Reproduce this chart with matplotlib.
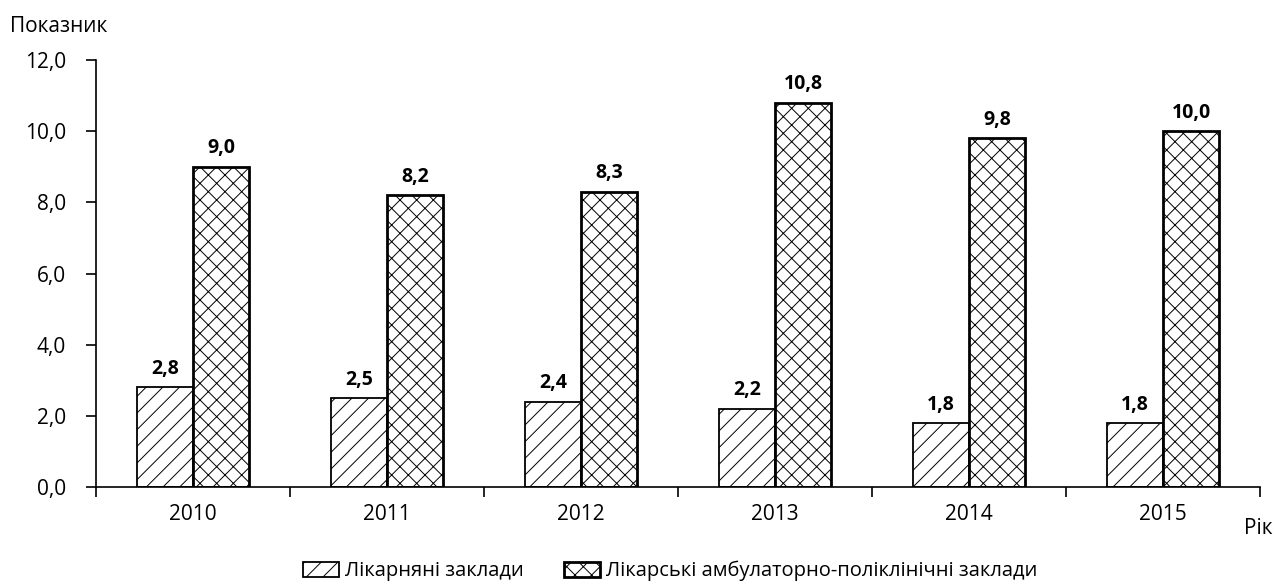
import matplotlib
matplotlib.use("Agg")
from matplotlib import pyplot as plt
from matplotlib.ticker import FixedLocator
import numpy as np

years = ["2010", "2011", "2012", "2013", "2014", "2015"]
hospitals = [2.8, 2.5, 2.4, 2.2, 1.8, 1.8]
outpatient = [9.0, 8.2, 8.3, 10.8, 9.8, 10.0]
names = ["Лікарняні заклади", "Лікарські амбулаторно-поліклінічні заклади"]

plt.rcParams["font.family"] = ["Open Sans", "DejaVu Sans"]
plt.rcParams["hatch.linewidth"] = 0.7

fig = plt.figure(figsize=(12.74, 5.86), dpi=100)
ax = fig.add_axes([96 / 1274, 1 - 487 / 586, (1260 - 96) / 1274, (487 - 60) / 586])

x = np.arange(len(years))
w = 0.29
b1 = ax.bar(x - w / 2, hospitals, w, color="white", edgecolor="black", linewidth=1.3,
            hatch="//", label=names[0])
b2 = ax.bar(x + w / 2, outpatient, w, color="white", edgecolor="black", linewidth=2.0,
            hatch="xx", label=names[1])

for bars, vals in ((b1, hospitals), (b2, outpatient)):
    for r, v in zip(bars, vals):
        ax.annotate(f"{v:.1f}".replace(".", ","), (r.get_x() + r.get_width() / 2, v),
                    xytext=(0, 6), textcoords="offset points", ha="center", va="bottom",
                    fontsize=14, fontweight="bold")

ax.set_xlim(-0.5, 5.5)
ax.set_ylim(0, 12)
ax.set_yticks(np.arange(0, 12.1, 2))
ax.set_yticklabels([f"{t:.1f}".replace(".", ",") for t in np.arange(0, 12.1, 2)])
ax.set_xticks(x)
ax.set_xticklabels(years)
ax.xaxis.set_minor_locator(FixedLocator(np.arange(-0.5, 5.6, 1)))
ax.tick_params(axis="x", which="major", length=0, pad=12, labelsize=15)
ax.tick_params(axis="x", which="minor", length=7, width=1.2, direction="out")
ax.tick_params(axis="y", length=7.5, width=1.2, pad=14, labelsize=15)

for s in ("top", "right"):
    ax.spines[s].set_visible(False)
for s in ("left", "bottom"):
    ax.spines[s].set_linewidth(1.2)

fig.text(10 / 1274, 1 - 26 / 586, "Показник", fontsize=15, ha="left", va="center")
fig.text(1273 / 1274, 1 - 528 / 586, "Рік", fontsize=15, ha="right", va="center")

fig.legend(handles=[b1, b2], loc="center", bbox_to_anchor=(670 / 1274, 1 - 571 / 586),
           ncol=2, frameon=False, fontsize=14.5, handlelength=1.8, handleheight=0.8,
           columnspacing=2.0, handletextpad=0.3, borderpad=0)

fig.savefig("out.png", dpi=100)
